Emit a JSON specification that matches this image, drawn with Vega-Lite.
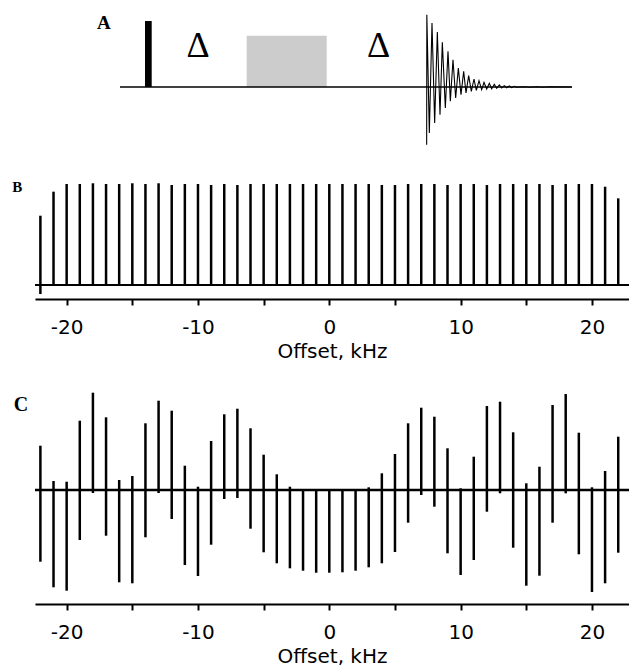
{
  "$schema": "https://vega.github.io/schema/vega-lite/v6.json",
  "padding": {"left": 12, "top": 0, "right": 0, "bottom": 0},
  "bounds": "flush",
  "spacing": 0,
  "config": {
    "view": {"stroke": null},
    "axisX": {
      "grid": false,
      "domainColor": "black",
      "domainWidth": 2,
      "tickColor": "black",
      "tickWidth": 2,
      "tickSize": 6,
      "labelFont": "DejaVu Sans",
      "labelFontSize": 20,
      "labelColor": "black",
      "labelPadding": 12,
      "titleFont": "DejaVu Sans",
      "titleFontSize": 20,
      "titleFontWeight": "normal",
      "titleColor": "black",
      "titlePadding": 4
    }
  },
  "datasets": {
    "sequence": [
      {"item": "pulse", "t1": 110, "t2": 116.7, "v1": 0, "v2": 66},
      {"item": "delay", "t1": 211.7, "t2": 291.7, "v1": 0, "v2": 51.3}
    ],
    "seqline": [{"t1": 85, "t2": 537, "v": 0}],
    "seqtext": [
      {"label": "Δ", "t": 163, "v": 41},
      {"label": "Δ", "t": 343.7, "v": 41}
    ],
    "fid": [
      {"t": 391.67, "v": -57.7}, {"t": 391.83, "v": 72.3}, {"t": 394.33, "v": -46},
      {"t": 397, "v": 64}, {"t": 399.67, "v": -36}, {"t": 402.33, "v": 55},
      {"t": 405, "v": -27.7}, {"t": 407.33, "v": 44.7}, {"t": 410.33, "v": -21},
      {"t": 413, "v": 35.7}, {"t": 415.33, "v": -14.3}, {"t": 418, "v": 27.3},
      {"t": 420.67, "v": -11}, {"t": 423.33, "v": 19}, {"t": 426, "v": -7.7},
      {"t": 428.67, "v": 15.7}, {"t": 431, "v": -6}, {"t": 433.67, "v": 11.3},
      {"t": 436.33, "v": -4.3}, {"t": 439, "v": 8}, {"t": 441.33, "v": -3.3},
      {"t": 444, "v": 6.3}, {"t": 446.67, "v": -2.7}, {"t": 449, "v": 4.7},
      {"t": 451.67, "v": -2}, {"t": 454.33, "v": 3.7}, {"t": 456.67, "v": -1.7},
      {"t": 459.33, "v": 2.7}, {"t": 461.67, "v": -1.3}, {"t": 464.33, "v": 2},
      {"t": 466.67, "v": -1}, {"t": 469.33, "v": 1.3}, {"t": 471.67, "v": -0.7},
      {"t": 474.33, "v": 1}, {"t": 476.67, "v": -0.7}, {"t": 479.33, "v": 0.7},
      {"t": 481.67, "v": -0.3}, {"t": 488.33, "v": 0.3}, {"t": 495, "v": -0.3},
      {"t": 501.67, "v": 0.3}, {"t": 508.33, "v": -0.3}, {"t": 515, "v": 0.3},
      {"t": 536.67, "v": 0}
    ],
    "specB": [
      {"k": -22, "top": 0.686, "bot": -0.09}, {"k": -21, "top": 0.924, "bot": 0},
      {"k": -20, "top": 1.0, "bot": 0}, {"k": -19, "top": 1.0, "bot": 0},
      {"k": -18, "top": 1.007, "bot": 0}, {"k": -17, "top": 1.0, "bot": 0},
      {"k": -16, "top": 1.0, "bot": 0}, {"k": -15, "top": 1.007, "bot": 0},
      {"k": -14, "top": 1.0, "bot": 0}, {"k": -13, "top": 1.007, "bot": 0},
      {"k": -12, "top": 0.99, "bot": 0}, {"k": -11, "top": 1.0, "bot": 0},
      {"k": -10, "top": 1.0, "bot": 0}, {"k": -9, "top": 0.99, "bot": 0},
      {"k": -8, "top": 1.0, "bot": 0}, {"k": -7, "top": 0.99, "bot": 0},
      {"k": -6, "top": 1.0, "bot": 0}, {"k": -5, "top": 1.0, "bot": 0},
      {"k": -4, "top": 1.0, "bot": 0}, {"k": -3, "top": 1.0, "bot": 0},
      {"k": -2, "top": 1.0, "bot": 0}, {"k": -1, "top": 1.0, "bot": 0},
      {"k": 0, "top": 1.0, "bot": 0}, {"k": 1, "top": 1.0, "bot": 0},
      {"k": 2, "top": 1.0, "bot": 0}, {"k": 3, "top": 1.0, "bot": 0},
      {"k": 4, "top": 0.99, "bot": 0}, {"k": 5, "top": 0.99, "bot": 0},
      {"k": 6, "top": 1.0, "bot": 0}, {"k": 7, "top": 1.0, "bot": 0},
      {"k": 8, "top": 1.0, "bot": 0}, {"k": 9, "top": 0.99, "bot": 0},
      {"k": 10, "top": 1.0, "bot": 0}, {"k": 11, "top": 1.0, "bot": 0},
      {"k": 12, "top": 0.99, "bot": 0}, {"k": 13, "top": 1.0, "bot": 0},
      {"k": 14, "top": 1.0, "bot": 0}, {"k": 15, "top": 1.0, "bot": 0},
      {"k": 16, "top": 1.0, "bot": 0}, {"k": 17, "top": 0.99, "bot": 0},
      {"k": 18, "top": 1.0, "bot": 0}, {"k": 19, "top": 1.0, "bot": 0},
      {"k": 20, "top": 1.0, "bot": 0}, {"k": 21, "top": 0.973, "bot": 0},
      {"k": 22, "top": 0.858, "bot": 0}
    ],
    "specC": [
      {"k": -22, "top": 0.443, "bot": -0.717}, {"k": -21, "top": 0.09, "bot": -0.973},
      {"k": -20, "top": 0.083, "bot": -1.007}, {"k": -19, "top": 0.693, "bot": -0.5},
      {"k": -18, "top": 0.973, "bot": -0.03}, {"k": -17, "top": 0.727, "bot": -0.457},
      {"k": -16, "top": 0.1, "bot": -0.923}, {"k": -15, "top": 0.14, "bot": -0.933},
      {"k": -14, "top": 0.667, "bot": -0.473}, {"k": -13, "top": 0.893, "bot": -0.03},
      {"k": -12, "top": 0.793, "bot": -0.29}, {"k": -11, "top": 0.243, "bot": -0.75},
      {"k": -10, "top": 0.033, "bot": -0.86}, {"k": -9, "top": 0.49, "bot": -0.547},
      {"k": -8, "top": 0.757, "bot": -0.09}, {"k": -7, "top": 0.813, "bot": -0.08},
      {"k": -6, "top": 0.617, "bot": -0.387}, {"k": -5, "top": 0.353, "bot": -0.623},
      {"k": -4, "top": 0.157, "bot": -0.733}, {"k": -3, "top": 0.033, "bot": -0.783},
      {"k": -2, "top": 0.0, "bot": -0.807}, {"k": -1, "top": 0.0, "bot": -0.827},
      {"k": 0, "top": 0.0, "bot": -0.827}, {"k": 1, "top": 0.0, "bot": -0.823},
      {"k": 2, "top": 0.0, "bot": -0.807}, {"k": 3, "top": 0.027, "bot": -0.773},
      {"k": 4, "top": 0.167, "bot": -0.733}, {"k": 5, "top": 0.36, "bot": -0.62},
      {"k": 6, "top": 0.667, "bot": -0.327}, {"k": 7, "top": 0.823, "bot": -0.05},
      {"k": 8, "top": 0.733, "bot": -0.167}, {"k": 9, "top": 0.417, "bot": -0.633},
      {"k": 10, "top": 0.017, "bot": -0.85}, {"k": 11, "top": 0.333, "bot": -0.7},
      {"k": 12, "top": 0.84, "bot": -0.217}, {"k": 13, "top": 0.883, "bot": -0.033},
      {"k": 14, "top": 0.577, "bot": -0.577}, {"k": 15, "top": 0.067, "bot": -0.957},
      {"k": 16, "top": 0.233, "bot": -0.857}, {"k": 17, "top": 0.85, "bot": -0.327},
      {"k": 18, "top": 0.96, "bot": -0.033}, {"k": 19, "top": 0.573, "bot": -0.643},
      {"k": 20, "top": 0.027, "bot": -1.02}, {"k": 21, "top": 0.19, "bot": -0.933},
      {"k": 22, "top": 0.533, "bot": -0.627}
    ],
    "span": [{"x1": -22.41, "x2": 22.82, "y": 0}],
    "letterA": [{"label": "A", "t": 68.8, "v": 64.5}],
    "letterB": [{"label": "B", "k": -23.76, "y": 0.97}],
    "letterC": [{"label": "C", "k": -23.48, "y": 0.85}]
  },
  "vconcat": [
    {
      "width": 594,
      "height": 175,
      "layer": [
        {
          "data": {"name": "sequence"},
          "transform": [{"filter": "datum.item === 'delay'"}],
          "mark": {"type": "rect", "color": "#cccccc"},
          "encoding": {
            "x": {"field": "t1", "type": "quantitative", "scale": {"domain": [0, 594], "nice": false, "zero": false}, "axis": null},
            "x2": {"field": "t2"},
            "y": {"field": "v1", "type": "quantitative", "scale": {"domain": [-88, 87], "nice": false, "zero": false}, "axis": null},
            "y2": {"field": "v2"}
          }
        },
        {
          "data": {"name": "seqline"},
          "mark": {"type": "rule", "color": "black", "strokeWidth": 1.5},
          "encoding": {
            "x": {"field": "t1", "type": "quantitative", "scale": {"domain": [0, 594], "nice": false, "zero": false}, "axis": null},
            "x2": {"field": "t2"},
            "y": {"field": "v", "type": "quantitative", "scale": {"domain": [-88, 87], "nice": false, "zero": false}, "axis": null}
          }
        },
        {
          "data": {"name": "sequence"},
          "transform": [{"filter": "datum.item === 'pulse'"}],
          "mark": {"type": "rect", "color": "black"},
          "encoding": {
            "x": {"field": "t1", "type": "quantitative", "scale": {"domain": [0, 594], "nice": false, "zero": false}, "axis": null},
            "x2": {"field": "t2"},
            "y": {"field": "v1", "type": "quantitative", "scale": {"domain": [-88, 87], "nice": false, "zero": false}, "axis": null},
            "y2": {"field": "v2"}
          }
        },
        {
          "data": {"name": "fid"},
          "mark": {"type": "line", "color": "black", "strokeWidth": 1.1},
          "encoding": {
            "x": {"field": "t", "type": "quantitative", "scale": {"domain": [0, 594], "nice": false, "zero": false}, "axis": null},
            "y": {"field": "v", "type": "quantitative", "scale": {"domain": [-88, 87], "nice": false, "zero": false}, "axis": null}
          }
        },
        {
          "data": {"name": "seqtext"},
          "mark": {"type": "text", "font": "Liberation Serif", "fontSize": 36, "baseline": "middle", "align": "center", "color": "black"},
          "encoding": {
            "x": {"field": "t", "type": "quantitative", "scale": {"domain": [0, 594], "nice": false, "zero": false}, "axis": null},
            "y": {"field": "v", "type": "quantitative", "scale": {"domain": [-88, 87], "nice": false, "zero": false}, "axis": null},
            "text": {"field": "label"}
          }
        },
        {
          "data": {"name": "letterA"},
          "mark": {"type": "text", "font": "Liberation Serif", "fontSize": 19, "fontWeight": "bold", "baseline": "middle", "align": "center", "color": "black"},
          "encoding": {
            "x": {"field": "t", "type": "quantitative", "scale": {"domain": [0, 594], "nice": false, "zero": false}, "axis": null},
            "y": {"field": "v", "type": "quantitative", "scale": {"domain": [-88, 87], "nice": false, "zero": false}, "axis": null},
            "text": {"field": "label"}
          }
        }
      ]
    },
    {
      "width": 594,
      "height": 124,
      "layer": [
        {
          "data": {"name": "span"},
          "mark": {"type": "rule", "color": "black", "strokeWidth": 2},
          "encoding": {
            "x": {"field": "x1", "type": "quantitative", "scale": {"domain": [-22.41, 22.82], "nice": false, "zero": false},
              "axis": {"values": [-20, -15, -10, -5, 0, 5, 10, 15, 20], "labelExpr": "datum.value % 10 == 0 ? '' + datum.value : ''", "title": "Offset, kHz"}},
            "x2": {"field": "x2"},
            "y": {"field": "y", "type": "quantitative", "scale": {"domain": [-0.139, 1.089], "nice": false, "zero": false}, "axis": null}
          }
        },
        {
          "data": {"name": "specB"},
          "mark": {"type": "rule", "color": "black", "strokeWidth": 2.5},
          "encoding": {
            "x": {
              "field": "k", "type": "quantitative",
              "scale": {"domain": [-22.41, 22.82], "nice": false, "zero": false},
              "axis": {"values": [-20, -15, -10, -5, 0, 5, 10, 15, 20], "labelExpr": "datum.value % 10 == 0 ? '' + datum.value : ''", "title": "Offset, kHz"}
            },
            "y": {"field": "bot", "type": "quantitative", "scale": {"domain": [-0.139, 1.089], "nice": false, "zero": false}, "axis": null},
            "y2": {"field": "top"}
          }
        },
        {
          "data": {"name": "letterB"},
          "mark": {"type": "text", "font": "Liberation Serif", "fontSize": 15, "fontWeight": "bold", "baseline": "middle", "align": "center", "color": "black"},
          "encoding": {
            "x": {"field": "k", "type": "quantitative", "scale": {"domain": [-22.41, 22.82], "nice": false, "zero": false},
              "axis": {"values": [-20, -15, -10, -5, 0, 5, 10, 15, 20], "labelExpr": "datum.value % 10 == 0 ? '' + datum.value : ''", "title": "Offset, kHz"}},
            "y": {"field": "y", "type": "quantitative", "scale": {"domain": [-0.139, 1.089], "nice": false, "zero": false}, "axis": null},
            "text": {"field": "label"}
          }
        }
      ]
    },
    {
      "width": 594,
      "height": 305,
      "layer": [
        {
          "data": {"name": "span"},
          "mark": {"type": "rule", "color": "black", "strokeWidth": 2.5},
          "encoding": {
            "x": {"field": "x1", "type": "quantitative", "scale": {"domain": [-22.41, 22.82], "nice": false, "zero": false},
              "axis": {"values": [-20, -15, -10, -5, 0, 5, 10, 15, 20], "labelExpr": "datum.value % 10 == 0 ? '' + datum.value : ''", "title": "Offset, kHz"}},
            "x2": {"field": "x2"},
            "y": {"field": "y", "type": "quantitative", "scale": {"domain": [-1.14, 1.91], "nice": false, "zero": false}, "axis": null}
          }
        },
        {
          "data": {"name": "specC"},
          "mark": {"type": "rule", "color": "black", "strokeWidth": 2.5},
          "encoding": {
            "x": {
              "field": "k", "type": "quantitative",
              "scale": {"domain": [-22.41, 22.82], "nice": false, "zero": false},
              "axis": {"values": [-20, -15, -10, -5, 0, 5, 10, 15, 20], "labelExpr": "datum.value % 10 == 0 ? '' + datum.value : ''", "title": "Offset, kHz"}
            },
            "y": {"field": "bot", "type": "quantitative", "scale": {"domain": [-1.14, 1.91], "nice": false, "zero": false}, "axis": null},
            "y2": {"field": "top"}
          }
        },
        {
          "data": {"name": "letterC"},
          "mark": {"type": "text", "font": "Liberation Serif", "fontSize": 20, "fontWeight": "bold", "baseline": "middle", "align": "center", "color": "black"},
          "encoding": {
            "x": {"field": "k", "type": "quantitative", "scale": {"domain": [-22.41, 22.82], "nice": false, "zero": false},
              "axis": {"values": [-20, -15, -10, -5, 0, 5, 10, 15, 20], "labelExpr": "datum.value % 10 == 0 ? '' + datum.value : ''", "title": "Offset, kHz"}},
            "y": {"field": "y", "type": "quantitative", "scale": {"domain": [-1.14, 1.91], "nice": false, "zero": false}, "axis": null},
            "text": {"field": "label"}
          }
        }
      ]
    }
  ]
}
